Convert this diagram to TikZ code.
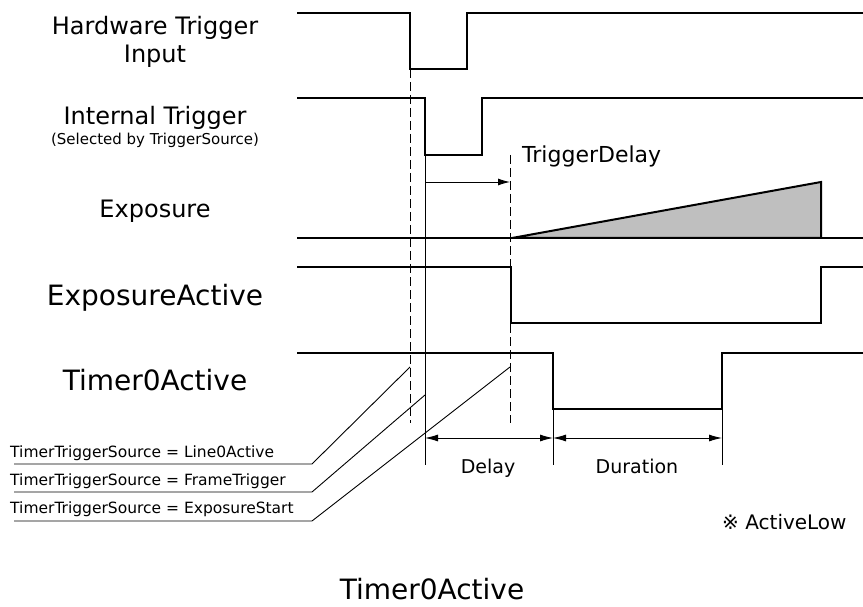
\documentclass[tikz,border=0pt]{standalone}
\usepackage{fontspec}
\setmainfont{DejaVu Sans}
\usetikzlibrary{arrows.meta,positioning}

\begin{document}
\begin{tikzpicture}[
    x=1pt,
    y=-1pt,
    wave/.style={
        draw=black,
        line width=2pt,
        line join=miter
    },
    guide/.style={
        draw=black,
        line width=0.9pt
    },
    dashguide/.style={
        draw=black,
        line width=0.9pt,
        dash pattern=on 9pt off 4pt
    },
    measure/.style={
        draw=black,
        line width=0.9pt,
        {Latex[length=13pt,width=7pt]}-{Latex[length=13pt,width=7pt]}
    },
    siglabel/.style={
        anchor=base,
        font=\fontsize{24}{28}\selectfont
    },
    biglabel/.style={
        anchor=base,
        font=\fontsize{28}{32}\selectfont
    },
    srclabel/.style={
        anchor=base west,
        inner sep=0pt,
        font=\fontsize{15.5}{18}\selectfont
    },
    note/.style={
        inner sep=0pt,
        font=\fontsize{20}{24}\selectfont
    }
]
\useasboundingbox (0,0) rectangle (863,607);

% --- Signal names ---
\node[siglabel] (hwname) at (155,35) {Hardware Trigger};
\node[siglabel] (hwname2) at (155,63) {Input};
\node[siglabel] (itname) at (155,125) {Internal Trigger};
\node[anchor=base, font=\fontsize{15}{18}\selectfont] (itsel) at (155,145) {(Selected by TriggerSource)};
\node[siglabel] (exname) at (155,218) {Exposure};
\node[biglabel] (eaname) at (155,305) {ExposureActive};
\node[biglabel] (tmname) at (155,390) {Timer0Active};

% --- Key points ---
\coordinate (hwfall) at (410,69);
\coordinate (itfall) at (425,155);
\coordinate (trgd) at (510,155);
\coordinate (tmfall) at (553,409);
\coordinate (tmrise) at (722,409);

% --- Waveforms ---
\draw[wave] (297,13) -- (410,13) -- (hwfall) -- (467,69) -- (467,13) -- (863,13);
\draw[wave] (297,98) -- (425,98) -- (itfall) -- (482,155) -- (482,98) -- (863,98);
\draw[wave, fill=gray!50] (512,238) -- (821,182) -- (821,238) -- cycle;
\draw[wave] (297,238) -- (863,238);
\draw[wave] (297,267) -- (511,267) -- (511,323) -- (821,323) -- (821,267) -- (863,267);
\draw[wave] (297,353) -- (553,353) -- (tmfall) -- (tmrise) -- (722,353) -- (863,353);

% --- Guides ---
\coordinate (hwend) at (410,423);
\coordinate (itend) at (425,465);
\coordinate (trgend) at (510,423);
\draw[dashguide] (hwfall) -- (hwend);
\draw[dashguide] (trgd) -- (trgend);
\draw[guide] (itfall) -- (itend);
\draw[guide] (tmfall) -- (553,465);
\draw[guide] (tmrise) -- (722,465);

% --- TriggerDelay ---
\coordinate (tda) at (425,182);
\coordinate (tdb) at (510,182);
\draw[guide, -{Latex[length=12pt,width=7pt]}] (tda) -- (tdb);
\node[anchor=base west, inner sep=0pt, font=\fontsize{22}{26}\selectfont] (tdname) at (522,163) {TriggerDelay};

% --- Delay / Duration ---
\coordinate (dla) at (425,438);
\coordinate (dlb) at (553,438);
\coordinate (dlc) at (722,438);
\draw[measure] (dla) -- (dlb);
\draw[measure] (dlb) -- (dlc);
\node[anchor=base, font=\fontsize{19}{22}\selectfont] (dlname) at (488,473) {Delay};
\node[anchor=base, font=\fontsize{19}{22}\selectfont] (duname) at (637,473) {Duration};

% --- Timer trigger sources ---
\node[srclabel] (srcline) at (10,457) {TimerTriggerSource = Line0Active};
\node[srclabel] (srcframe) at (10,485) {TimerTriggerSource = FrameTrigger};
\node[srclabel] (srcexp) at (10,513) {TimerTriggerSource = ExposureStart};
\draw[guide] (14,464) -- (312,464) -- (410,367);
\draw[guide] (14,492) -- (312,492) -- (425,395);
\draw[guide] (14,521) -- (312,521) -- (510,367);

% --- Notes ---
\node[note, anchor=base west] (lownote) at (722,529) {※ ActiveLow};
\node[biglabel, inner sep=0pt] (title) at (432,599) {Timer0Active};

\end{tikzpicture}
\end{document}
